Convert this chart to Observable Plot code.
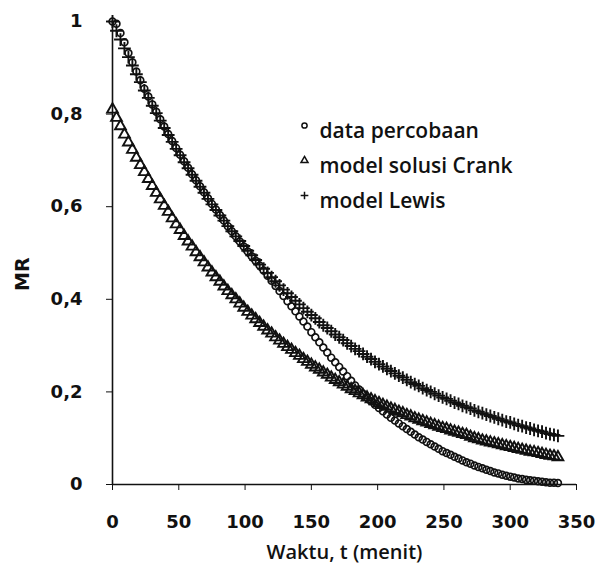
<!DOCTYPE html>
<html><head><meta charset="utf-8">
<script src="https://cdn.jsdelivr.net/npm/d3@7"></script>
<script src="https://cdn.jsdelivr.net/npm/@observablehq/plot@0.6"></script>
<style>body{margin:0;background:#fff}</style>
</head><body><div id="chart"></div><script>
const timeStep = 3; // minutes between readings
const dataPercobaan = [
1.000,0.995,0.975,0.955,0.932,0.912,0.892,0.873,0.855,0.838,
0.821,0.805,0.789,0.773,0.757,0.742,0.727,0.712,0.698,0.684,
0.670,0.657,0.644,0.631,0.618,0.606,0.594,0.582,0.570,0.558,
0.547,0.536,0.525,0.514,0.503,0.493,0.483,0.473,0.462,0.451,
0.440,0.429,0.418,0.407,0.396,0.385,0.374,0.363,0.352,0.341,
0.329,0.318,0.307,0.296,0.285,0.274,0.264,0.254,0.244,0.234,
0.224,0.214,0.205,0.196,0.188,0.180,0.172,0.165,0.158,0.151,
0.144,0.138,0.132,0.126,0.120,0.114,0.108,0.102,0.097,0.092,
0.087,0.082,0.077,0.072,0.068,0.064,0.060,0.056,0.052,0.048,
0.045,0.041,0.038,0.035,0.032,0.029,0.026,0.024,0.021,0.019,
0.017,0.015,0.013,0.012,0.010,0.009,0.008,0.007,0.006,0.005,
0.004,0.004,0.003];
const modelCrank = [
0.810,0.792,0.774,0.756,0.739,0.723,0.706,0.690,0.675,0.660,
0.645,0.630,0.616,0.602,0.589,0.575,0.562,0.550,0.537,0.525,
0.514,0.502,0.491,0.480,0.469,0.458,0.448,0.438,0.428,0.418,
0.409,0.400,0.391,0.382,0.373,0.365,0.357,0.349,0.341,0.333,
0.326,0.318,0.311,0.304,0.297,0.291,0.284,0.278,0.271,0.265,
0.259,0.253,0.248,0.242,0.237,0.231,0.226,0.221,0.216,0.211,
0.206,0.202,0.197,0.193,0.188,0.184,0.180,0.176,0.172,0.168,
0.164,0.161,0.157,0.154,0.150,0.147,0.143,0.140,0.137,0.134,
0.131,0.128,0.125,0.122,0.120,0.117,0.114,0.112,0.109,0.107,
0.103,0.100,0.098,0.095,0.093,0.091,0.089,0.087,0.085,0.083,
0.081,0.079,0.077,0.075,0.073,0.071,0.070,0.068,0.066,0.064,
0.062,0.061,0.059];
const modelLewis = [
1.000,0.980,0.961,0.942,0.923,0.905,0.886,0.869,0.851,0.835,
0.818,0.802,0.786,0.770,0.755,0.740,0.725,0.711,0.696,0.683,
0.669,0.656,0.643,0.630,0.617,0.605,0.593,0.581,0.570,0.558,
0.547,0.536,0.526,0.515,0.505,0.495,0.485,0.475,0.466,0.457,
0.448,0.439,0.430,0.421,0.413,0.405,0.397,0.389,0.381,0.373,
0.366,0.359,0.351,0.344,0.338,0.331,0.324,0.318,0.312,0.305,
0.299,0.293,0.288,0.282,0.276,0.271,0.265,0.260,0.255,0.250,
0.245,0.240,0.235,0.231,0.226,0.221,0.217,0.213,0.208,0.204,
0.200,0.196,0.192,0.188,0.185,0.181,0.177,0.174,0.170,0.167,
0.164,0.160,0.157,0.154,0.151,0.148,0.145,0.142,0.139,0.136,
0.134,0.131,0.128,0.126,0.123,0.121,0.118,0.116,0.114,0.111,
0.109,0.107,0.105];
const xTicks = [0, 50, 100, 150, 200, 250, 300, 350];
const yTicks = [0, 0.2, 0.4, 0.6, 0.8, 1];
const xLabel = "Waktu, t (menit)";
const yLabel = "MR";
const legendLabels = ["data percobaan", "model solusi Crank", "model Lewis"];
const legendSymbols = ["circle", "triangle", "plus"];

const rows = arr => arr.map((v, i) => ({t: i * timeStep, mr: v}));
const fmtY = d => String(d).replace(".", ",");

const ink = "#111";

const legendMarks = legendLabels.flatMap((lab, i) => [
  Plot.dot([lab], {frameAnchor: "top-left", dx: 192, dy: 104 + i * 35, symbol: legendSymbols[i], r: 2.6, stroke: ink, fill: "none", strokeWidth: 1.5}),
  Plot.text([lab], {frameAnchor: "top-left", dx: 207, dy: 102 + i * 35, text: d => d, textAnchor: "start", fontFamily: "Open Sans", fontWeight: 600, fontSize: 21, fill: ink})
]);

const chart = Plot.plot({
  width: 599, height: 579,
  marginLeft: 112, marginRight: 23, marginTop: 21, marginBottom: 95,
  style: {fontFamily: "DejaVu Sans", fontSize: "18px", color: ink, background: "#fff"},
  x: {domain: [0, 350]},
  y: {domain: [0, 1]},
  marks: [
    Plot.axisX({ticks: xTicks, tickSize: 6, tickPadding: 25, tickFormat: d => String(d), label: null, fontSize: 18, fontWeight: "bold"}),
    Plot.axisY({ticks: yTicks, tickSize: 6, tickPadding: 24, tickFormat: fmtY, label: null, fontSize: 18, fontWeight: "bold"}),
    Plot.ruleX([0], {stroke: ink, strokeWidth: 1.6}),
    Plot.ruleY([0], {stroke: ink, strokeWidth: 1.6}),
    Plot.dot(rows(modelCrank), {x: "t", y: "mr", symbol: "triangle", r: 4, stroke: ink, fill: "none", strokeWidth: 1.9}),
    Plot.dot(rows(modelLewis), {x: "t", y: "mr", symbol: "plus", r: 4.2, stroke: ink, fill: "none", strokeWidth: 1.9}),
    Plot.dot(rows(dataPercobaan), {x: "t", y: "mr", symbol: "circle", r: 3.4, stroke: ink, fill: "none", strokeWidth: 1.7}),
    Plot.text([xLabel], {frameAnchor: "bottom", dy: 74, text: d => d, fontFamily: "Open Sans", fontWeight: 600, fontSize: 20, fill: ink}),
    Plot.text([yLabel], {frameAnchor: "left", dx: -90, dy: 38, rotate: -90, text: d => d, fontFamily: "DejaVu Sans", fontWeight: "bold", fontSize: 19, fill: ink}),
    ...legendMarks
  ]
});
document.getElementById("chart").append(chart);
</script></body></html>
